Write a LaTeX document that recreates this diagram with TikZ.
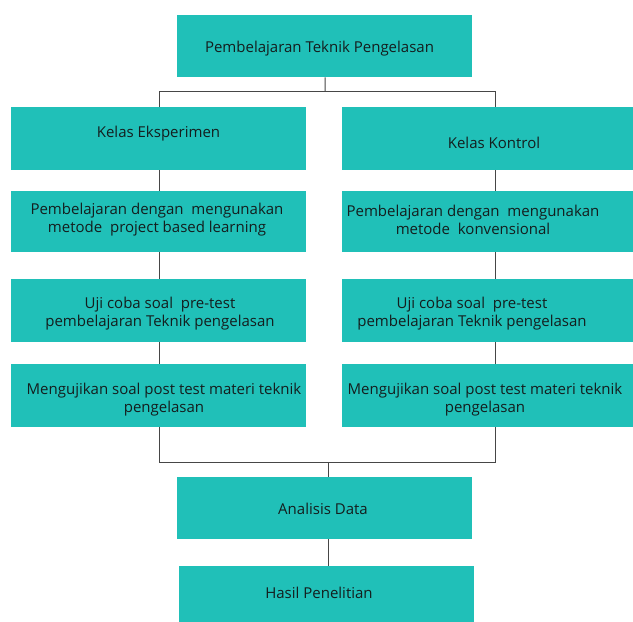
\documentclass[tikz,border=0pt]{standalone}
\usepackage{fontspec}
\setmainfont{Open Sans}
\definecolor{teal1}{RGB}{32,192,184}
\definecolor{txt}{RGB}{20,30,30}
\definecolor{ln}{RGB}{70,70,70}
\begin{document}
\begin{tikzpicture}[x=1pt,y=-1pt,
  box/.style={fill=teal1, draw=none, inner sep=0pt},
  lbl/.style={text=txt, font=\fontsize{15}{18}\selectfont, align=center, inner sep=0pt, yshift=-1.5pt},
  conn/.style={draw=ln, line width=1pt}]
\useasboundingbox[fill=white] (0,0) rectangle (633,622);
% boxes
\node[box, anchor=north west, minimum width=295, minimum height=62] (top) at (177,15) {};
\node[box, anchor=north west, minimum width=295, minimum height=63] (le) at (11,107) {};
\node[box, anchor=north west, minimum width=291, minimum height=63] (re) at (342,107) {};
\node[box, anchor=north west, minimum width=295, minimum height=61] (l2) at (11,191) {};
\node[box, anchor=north west, minimum width=291, minimum height=61] (r2) at (342,191) {};
\node[box, anchor=north west, minimum width=295, minimum height=63] (l3) at (11,279) {};
\node[box, anchor=north west, minimum width=291, minimum height=63] (r3) at (342,279) {};
\node[box, anchor=north west, minimum width=295, minimum height=63] (l4) at (11,364) {};
\node[box, anchor=north west, minimum width=291, minimum height=63] (r4) at (342,364) {};
\node[box, anchor=north west, minimum width=295, minimum height=62] (ad) at (177,477) {};
\node[box, anchor=north west, minimum width=295, minimum height=56] (hp) at (179,566) {};
% labels
\node[lbl] (top-t) at (319.5,47) {Pembelajaran Teknik Pengelasan};
\node[lbl] (le-t) at (158.5,132) {Kelas Eksperimen};
\node[lbl] (re-t) at (494,141) {Kelas Kontrol};
\node[lbl] (l2-t) at (157,218) {Pembelajaran dengan\ \ mengunakan\\metode\ \ project based learning};
\node[lbl] (r2-t) at (473,218) {Pembelajaran dengan\ \ mengunakan\\metode\ \ konvensional};
\node[lbl] (l3-t) at (160,312.5) {Uji coba soal\ \ pre-test\\pembelajaran Teknik pengelasan};
\node[lbl] (r3-t) at (472,312.5) {Uji coba soal\ \ pre-test\\pembelajaran Teknik pengelasan};
\node[lbl] (l4-t) at (164,398) {Mengujikan soal post test materi teknik\\pengelasan};
\node[lbl] (r4-t) at (485,398) {Mengujikan soal post test materi teknik\\pengelasan};
\node[lbl] (ad-t) at (323,507) {Analisis Data};
\node[lbl] (hp-t) at (319,591) {Hasil Penelitian};
% connectors
\coordinate (jt) at (325,91);
\coordinate (jb) at (328,462);
\draw[conn] ([xshift=0.5]top.south) -- (jt);
\draw[conn] (jt) -| ([xshift=0.5]le.north);
\draw[conn] (jt) -| ([xshift=7.5]re.north);
\draw[conn] ([xshift=0.5]le.south) -- ([xshift=0.5]l2.north);
\draw[conn] ([xshift=0.5]l2.south) -- ([xshift=0.5]l3.north);
\draw[conn] ([xshift=0.5]l3.south) -- ([xshift=0.5]l4.north);
\draw[conn] ([xshift=7.5]re.south) -- ([xshift=7.5]r2.north);
\draw[conn] ([xshift=7.5]r2.south) -- ([xshift=7.5]r3.north);
\draw[conn] ([xshift=7.5]r3.south) -- ([xshift=7.5]r4.north);
\draw[conn] ([xshift=0.5]l4.south) |- (jb);
\draw[conn] ([xshift=7.5]r4.south) |- (jb);
\draw[conn] (jb) -- (ad.north -| jb);
\draw[conn] (ad.south -| jb) -- (hp.north -| jb);
\end{tikzpicture}
\end{document}
